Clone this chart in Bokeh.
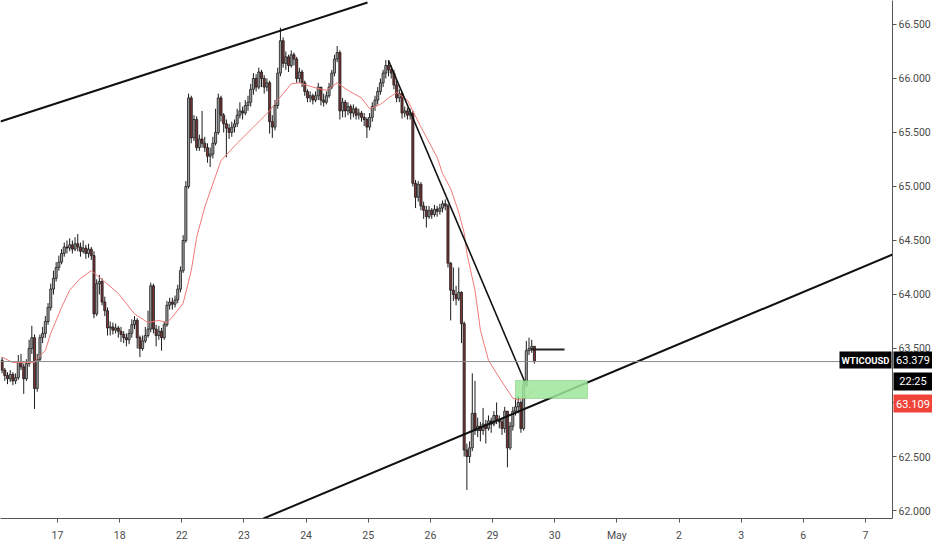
import numpy as np
from bokeh.plotting import figure
from bokeh.models import ColumnDataSource, Range1d, FixedTicker, Span, BoxAnnotation
from bokeh.core.properties import value
from bokeh.embed import file_html
from bokeh.resources import INLINE

# ---------------- data (hourly candles, WTICOUSD) ----------------
BARS_PER_DAY = 23
FIRST_SLOT = 2          # hourly slot of the first visible candle on 16 Apr
first_open = 63.39

closes = [
    63.30, 63.25, 63.22, 63.26, 63.20, 63.23, 63.38, 63.33, 63.22, 63.36,
    63.50, 63.60, 63.13, 63.40, 63.60, 63.64, 63.75, 63.88, 64.05, 64.15,
    64.25, 64.30, 64.38, 64.44, 64.43, 64.46, 64.42, 64.47, 64.44, 64.40,
    64.43, 64.38, 64.42, 64.36, 63.82, 64.10, 64.12, 63.93, 63.85, 63.69,
    63.70, 63.67, 63.69, 63.66, 63.63, 63.60, 63.58, 63.64, 63.72, 63.76,
    63.60, 63.50, 63.57, 63.62, 63.68, 64.08, 63.68, 63.62, 63.66, 63.60,
    63.72, 63.90, 63.93, 63.91, 63.95, 64.05, 64.22, 64.50, 65.00, 65.82,
    65.45, 65.62, 65.36, 65.44, 65.40, 65.36, 65.28, 65.30, 65.40, 65.50,
    65.82, 65.66, 65.58, 65.54, 65.50, 65.55, 65.58, 65.66, 65.70, 65.68,
    65.75, 65.78, 65.90, 66.00, 65.92, 66.06, 66.00, 65.92, 65.96, 65.60,
    65.55, 65.75, 66.05, 66.35, 66.14, 66.20, 66.12, 66.22, 66.18, 66.00,
    66.06, 65.96, 65.88, 65.82, 65.84, 65.80, 65.84, 65.92, 65.80, 65.78,
    65.84, 65.92, 66.05, 66.18, 66.24, 65.70, 65.78, 65.70, 65.74, 65.68,
    65.72, 65.66, 65.68, 65.64, 65.62, 65.55, 65.64, 65.74, 65.80, 65.88,
    65.96, 66.05, 66.12, 66.08, 66.05, 65.94, 65.82, 65.86, 65.68, 65.70,
    65.66, 65.68, 65.03, 64.90, 65.02, 64.82, 64.78, 64.72, 64.78, 64.74,
    64.79, 64.77, 64.80, 64.84, 64.82, 64.29, 64.04, 64.00, 63.96, 64.02,
    63.73, 62.56, 62.50, 62.58, 62.90, 62.74, 62.78, 62.74, 62.80, 62.76,
    62.83, 62.80, 62.88, 62.84, 62.82, 62.76, 62.92, 62.58, 62.78, 62.92,
    62.96, 63.00, 62.76, 63.16, 63.48, 63.50, 63.52, 63.38,
]
highs = [
    63.42, 63.32, 63.28, 63.30, 63.28, 63.27, 63.44, 63.45, 63.36, 63.40,
    63.58, 63.71, 63.63, 63.45, 63.63, 63.70, 63.80, 63.92, 64.10, 64.22,
    64.30, 64.36, 64.42, 64.48, 64.50, 64.52, 64.50, 64.53, 64.56, 64.48,
    64.50, 64.46, 64.47, 64.44, 64.40, 64.14, 64.18, 64.15, 63.98, 63.88,
    63.75, 63.74, 63.73, 63.71, 63.70, 63.66, 63.64, 63.68, 63.77, 63.80,
    63.78, 63.62, 63.62, 63.70, 63.85, 64.11, 64.10, 63.72, 63.71, 63.69,
    63.75, 63.94, 63.97, 63.97, 63.99, 64.09, 64.26, 64.55, 65.05, 65.86,
    65.84, 65.66, 65.65, 65.48, 65.70, 65.46, 65.40, 65.36, 65.46, 65.72,
    65.86, 65.84, 65.68, 65.62, 65.58, 65.60, 65.62, 65.72, 65.78, 65.74,
    65.80, 65.84, 65.95, 66.05, 66.04, 66.10, 66.08, 66.03, 66.00, 65.98,
    65.66, 65.80, 66.10, 66.47, 66.38, 66.25, 66.22, 66.26, 66.24, 66.20,
    66.10, 66.08, 65.98, 65.90, 65.88, 65.86, 65.88, 65.96, 65.88, 65.86,
    65.88, 65.96, 66.08, 66.22, 66.30, 66.26, 65.82, 65.80, 65.78, 65.76,
    65.76, 65.74, 65.72, 65.70, 65.68, 65.64, 65.68, 65.78, 65.84, 65.92,
    66.00, 66.08, 66.17, 66.17, 66.12, 66.08, 65.98, 65.90, 65.88, 65.74,
    65.73, 65.72, 65.70, 65.06, 65.05, 65.04, 64.86, 64.82, 64.82, 64.80,
    64.83, 64.82, 64.84, 64.87, 64.88, 64.84, 64.30, 64.25, 64.08, 64.25,
    64.03, 63.75, 62.62, 62.64, 63.27, 63.20, 62.86, 62.82, 62.95, 62.84,
    62.88, 62.86, 62.92, 63.00, 62.88, 62.86, 62.96, 62.92, 62.82, 62.96,
    63.04, 63.06, 63.02, 63.20, 63.57, 63.60, 63.58, 63.52,
]
lows = [
    63.27, 63.20, 63.17, 63.19, 63.16, 63.17, 63.21, 63.30, 63.08, 63.20,
    63.33, 63.45, 62.94, 63.10, 63.38, 63.55, 63.60, 63.72, 63.85, 64.00,
    64.12, 64.22, 64.28, 64.35, 64.38, 64.40, 64.38, 64.40, 64.40, 64.35,
    64.38, 64.33, 64.34, 64.32, 63.78, 63.80, 64.00, 63.90, 63.80, 63.62,
    63.62, 63.63, 63.64, 63.60, 63.56, 63.55, 63.52, 63.54, 63.60, 63.68,
    63.50, 63.42, 63.48, 63.55, 63.60, 63.65, 63.64, 63.52, 63.58, 63.48,
    63.58, 63.70, 63.86, 63.86, 63.88, 63.92, 64.02, 64.20, 64.48, 64.98,
    65.40, 65.42, 65.33, 65.33, 65.36, 65.32, 65.22, 65.18, 65.26, 65.38,
    65.48, 65.60, 65.50, 65.27, 65.44, 65.46, 65.50, 65.55, 65.63, 65.62,
    65.66, 65.70, 65.74, 65.85, 65.88, 65.90, 65.92, 65.86, 65.88, 65.49,
    65.45, 65.52, 65.72, 66.02, 66.10, 66.08, 66.06, 66.10, 66.12, 65.96,
    65.96, 65.92, 65.84, 65.78, 65.78, 65.76, 65.78, 65.80, 65.75, 65.74,
    65.76, 65.82, 65.90, 66.02, 66.15, 65.62, 65.64, 65.64, 65.66, 65.62,
    65.64, 65.62, 65.62, 65.60, 65.56, 65.45, 65.52, 65.60, 65.70, 65.76,
    65.85, 65.92, 66.00, 66.02, 66.00, 65.90, 65.78, 65.78, 65.63, 65.64,
    65.62, 65.62, 65.00, 64.80, 64.86, 64.78, 64.70, 64.62, 64.70, 64.70,
    64.72, 64.72, 64.74, 64.76, 64.78, 64.25, 63.76, 63.94, 63.90, 63.94,
    63.55, 62.50, 62.19, 62.44, 62.55, 62.70, 62.68, 62.64, 62.70, 62.62,
    62.74, 62.72, 62.78, 62.80, 62.76, 62.70, 62.72, 62.40, 62.56, 62.74,
    62.88, 62.90, 62.72, 62.74, 63.14, 63.44, 63.46, 63.36,
]

# moving average (red line) read at knots: bar index -> value
ma_bar = [0, 4, 12, 13, 16, 18, 22, 25, 29, 33, 36, 43, 49, 54, 58, 61, 63,
          67, 70, 72, 75, 81, 87, 93, 99, 102, 107, 110, 115, 120, 124, 128,
          133, 136, 140, 143, 146, 150, 155, 161, 163, 166, 169, 171, 172,
          175, 177, 180, 185, 189, 191, 194, 197]
ma_val = [63.42, 63.37, 63.37, 63.41, 63.48, 63.64, 63.88, 64.04, 64.15, 64.22,
          64.16, 64.01, 63.82, 63.74, 63.76, 63.74, 63.79, 63.92, 64.22, 64.53,
          64.81, 65.24, 65.40, 65.55, 65.70, 65.80, 65.95, 65.96, 65.92, 65.89,
          65.96, 65.89, 65.82, 65.72, 65.76, 65.82, 65.87, 65.80, 65.55, 65.27,
          65.12, 64.98, 64.76, 64.57, 64.38, 64.04, 63.67, 63.39, 63.19, 63.04,
          63.02, 63.05, 63.11]

# axis ticks: trading-day index -> label
day_ticks = [1, 2, 3, 4, 5, 6, 7, 8, 9, 10, 11, 12, 13, 14]
day_labels = ["17", "18", "22", "23", "24", "25", "26", "29", "30", "May",
              "2", "3", "6", "7"]
price_ticks = [62.0, 62.5, 63.0, 63.5, 64.0, 64.5, 65.0, 65.5, 66.0, 66.5]
price_labels = ["62.000", "62.500", "63.000", "63.500", "64.000", "64.500",
                "65.000", "65.500", "66.000", "66.500"]

# drawings (time in trading days, price)
upper_channel_t = [0.083, 5.988]
upper_channel_p = [65.602, 66.704]
lower_channel_t = [4.315, 14.435]
lower_channel_p = [61.926, 64.370]
down_trend_t = [6.326, 8.530]
down_trend_p = [66.167, 63.176]
hline_t = [8.611, 9.158]
hline_p = [63.491, 63.491]
zone_t = [8.369, 9.528]
zone_p = [63.037, 63.204]

last_price = 63.379
ma_last = 63.109
symbol = "WTICOUSD"
countdown = "22:25"

# ---------------- build ----------------
X0, X1 = 0.0829, 14.4352       # visible time range (frame)
Y0, Y1 = 61.926, 66.722        # visible price range (frame)
PX_DAY = 892 / (X1 - X0)       # pixels per day
PX_PRICE = 518 / (Y1 - Y0)     # pixels per price unit

n = len(closes)
opens = [first_open] + closes[:-1]
idx = np.arange(n)
xs = (FIRST_SLOT + idx + 0.5) / BARS_PER_DAY
o = np.array(opens); c = np.array(closes)
h = np.maximum(np.array(highs), np.maximum(o, c))
l = np.minimum(np.array(lows), np.minimum(o, c))
up = c >= o
body_top = np.maximum(o, c)
body_bot = np.minimum(o, c)
body_bot = np.where(body_top - body_bot < 0.008, body_top - 0.008, body_bot)

src = ColumnDataSource(dict(x=xs, h=h, l=l, top=body_top, bot=body_bot,
                            color=np.where(up, "#9e9e9e", "#7b3434")))

p = figure(frame_width=892, frame_height=518, output_backend="svg",
           toolbar_location=None, x_range=Range1d(X0, X1),
           y_range=Range1d(Y0, Y1), y_axis_location="right",
           min_border_left=0, min_border_top=0, min_border_right=40,
           min_border_bottom=32)
p.outline_line_color = None
p.xgrid.visible = False
p.ygrid.visible = False
p.background_fill_color = "white"

# last price line
p.add_layout(Span(location=last_price, dimension="width",
                  line_color="#8c8c8c", line_width=1))

# zone box
p.add_layout(BoxAnnotation(left=zone_t[0], right=zone_t[1], bottom=zone_p[0],
                           top=zone_p[1], fill_color="#9ee69a", fill_alpha=0.85,
                           line_color="#3f9a3f", line_width=1, level="glyph"))

# candles
p.segment(x0="x", y0="h", x1="x", y1="l", source=src, line_color="#1c1c1c",
          line_width=1)
p.vbar(x="x", width=0.78 / BARS_PER_DAY, top="top", bottom="bot", source=src,
       fill_color="color", line_color="#1c1c1c", line_width=0.8)

# moving average
ma_x = [(FIRST_SLOT + b + 0.5) / BARS_PER_DAY for b in ma_bar]
p.line(ma_x, ma_val, line_color="#f07a7a", line_width=1)

# drawings
p.line(upper_channel_t, upper_channel_p, line_color="#111111", line_width=2)
p.line(lower_channel_t, lower_channel_p, line_color="#111111", line_width=2)
p.line(down_trend_t, down_trend_p, line_color="#111111", line_width=1.6)
p.line(hline_t, hline_p, line_color="#222222", line_width=2)

# axes
xa = p.xaxis[0]
xa.ticker = FixedTicker(ticks=day_ticks)
xa.major_label_overrides = {t: s for t, s in zip(day_ticks, day_labels)}
xa.minor_tick_line_color = None
xa.major_tick_in = 0
xa.major_tick_out = 4
xa.major_label_standoff = 6
xa.axis_line_color = "#555555"
xa.major_tick_line_color = "#555555"
xa.major_label_text_color = "#4a4a4a"
xa.major_label_text_font = "Roboto"
xa.major_label_text_font_size = "10.5px"

ya = p.yaxis[0]
ya.ticker = FixedTicker(ticks=price_ticks)
ya.major_label_overrides = {t: s for t, s in zip(price_ticks, price_labels)}
ya.minor_tick_line_color = None
ya.major_tick_in = 0
ya.major_tick_out = 4
ya.major_label_standoff = 2
ya.axis_line_color = "#555555"
ya.major_tick_line_color = "#555555"
ya.major_label_text_color = "#4a4a4a"
ya.major_label_text_font = "Roboto"
ya.major_label_text_font_size = "10.5px"

# price-scale tags (drawn as overlay glyphs so they may sit on the scale)
def tx(px):
    return X0 + px / PX_DAY

def ty(py):
    return Y1 - py / PX_PRICE

tags = dict(
    left=[tx(839), tx(893), tx(893), tx(893)],
    right=[tx(891), tx(932), tx(932), tx(932)],
    top=[ty(351), ty(351), ty(372), ty(394)],
    bottom=[ty(368), ty(368), ty(390), ty(412)],
    fill=["black", "black", "black", "#f0443a"],
    tx=[tx(865), tx(912.5), tx(912.5), tx(912.5)],
    ty=[ty(359.5), ty(359.5), ty(381), ty(403)],
    text=[symbol, f"{last_price:.3f}", countdown, f"{ma_last:.3f}"],
    style=["bold", "normal", "normal", "normal"],
    size=["9.5px", "11px", "11px", "11px"],
)
tsrc = ColumnDataSource(tags)
p.quad(left="left", right="right", top="top", bottom="bottom", source=tsrc,
       fill_color="fill", line_color=None, level="overlay")
p.text(x="tx", y="ty", text="text", source=tsrc, text_color="white",
       text_font=value("Roboto"), text_font_size="size",
       text_font_style="style", text_align="center", text_baseline="middle",
       level="overlay")

open("out.html", "w").write(file_html(p, INLINE))
